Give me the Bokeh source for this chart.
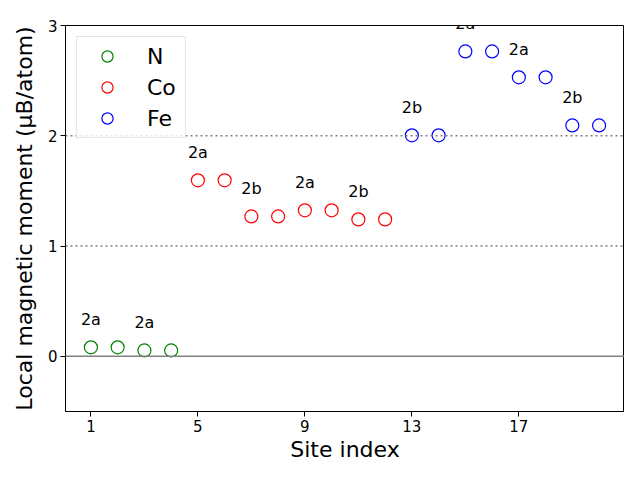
from bokeh.plotting import figure
from bokeh.models import Range1d, Span, Legend, LegendItem, FixedTicker, Label
from bokeh.embed import file_html
from bokeh.resources import INLINE

# Data
n_sites = [1, 2, 3, 4]
n_moments = [0.082, 0.082, 0.054, 0.054]
co_sites = [5, 6, 7, 8, 9, 10, 11, 12]
co_moments = [1.596, 1.596, 1.269, 1.269, 1.324, 1.324, 1.242, 1.242]
fe_sites = [13, 14, 15, 16, 17, 18, 19, 20]
fe_moments = [2.004, 2.004, 2.765, 2.765, 2.53, 2.53, 2.094, 2.094]
wyckoff_sites = [1, 3, 5, 7, 9, 11, 13, 15, 17, 19]
wyckoff_labels = ["2a", "2a", "2a", "2b", "2a", "2b", "2b", "2a", "2a", "2b"]
x_ticks = [1, 5, 9, 13, 17]
y_ticks = [0, 1, 2, 3]

FONT = "DejaVu Sans"

p = figure(width=624, height=464, output_backend="svg", toolbar_location=None,
           x_range=Range1d(0.05, 20.95), y_range=Range1d(-0.5, 3.0),
           min_border_left=65, min_border_right=0, min_border_top=25, min_border_bottom=50)
p.xgrid.visible = False
p.ygrid.visible = False
p.outline_line_color = "black"
p.outline_line_width = 1

# reference lines
p.add_layout(Span(location=0, dimension="width", line_color="grey", line_width=1.5))
for yv in [1, 2]:
    p.add_layout(Span(location=yv, dimension="width", line_color="grey",
                      line_width=1.5, line_dash="2 3"))

r_n = p.scatter(n_sites, n_moments, marker="circle", size=13, fill_color=None,
                line_color="#008000", line_width=1.2)
r_co = p.scatter(co_sites, co_moments, marker="circle", size=13, fill_color=None,
                 line_color="#ff0000", line_width=1.2)
r_fe = p.scatter(fe_sites, fe_moments, marker="circle", size=13, fill_color=None,
                 line_color="#0000ff", line_width=1.2)

# labels above the first atom of each pair
all_sites = n_sites + co_sites + fe_sites
all_moments = n_moments + co_moments + fe_moments
lookup = dict(zip(all_sites, all_moments))
for s, t in zip(wyckoff_sites, wyckoff_labels):
    p.add_layout(Label(x=s, y=lookup[s] + 0.25, text=t, text_align="center",
                       text_baseline="middle", text_font=FONT, text_font_size="16px",
                       text_color="black", level="overlay"))

# axes
for ax in (p.xaxis[0], p.yaxis[0]):
    ax.major_label_text_font = FONT
    ax.major_label_text_font_size = "15px"
    ax.major_label_text_color = "black"
    ax.major_label_standoff = 3
    ax.axis_label_text_font = FONT
    ax.axis_label_text_font_size = "22px"
    ax.axis_label_text_font_style = "normal"
    ax.axis_label_text_color = "black"
    ax.axis_label_standoff = 2
    ax.major_tick_out = 5
    ax.major_tick_in = 0
    ax.minor_tick_out = 0
    ax.minor_tick_in = 0
    ax.axis_line_color = "black"
    ax.major_tick_line_color = "black"
p.yaxis.axis_label_standoff = 8
p.xaxis.ticker = FixedTicker(ticks=x_ticks)
p.yaxis.ticker = FixedTicker(ticks=y_ticks)
p.xaxis.axis_label = "Site index"
p.yaxis.axis_label = "Local magnetic moment (μB/atom)"

legend = Legend(items=[LegendItem(label="N", renderers=[r_n]),
                       LegendItem(label="Co", renderers=[r_co]),
                       LegendItem(label="Fe", renderers=[r_fe])],
                location="top_left")
legend.label_text_font = FONT
legend.label_text_font_size = "22px"
legend.label_text_color = "black"
legend.label_height = 28
legend.glyph_height = 28
legend.glyph_width = 50
legend.label_standoff = 15
legend.label_width = 33
legend.spacing = 3
legend.padding = 5
legend.margin = 11
legend.border_line_color = "#cccccc"
legend.background_fill_alpha = 0.8
p.add_layout(legend)

open("out.html", "w").write(file_html(p, INLINE))
